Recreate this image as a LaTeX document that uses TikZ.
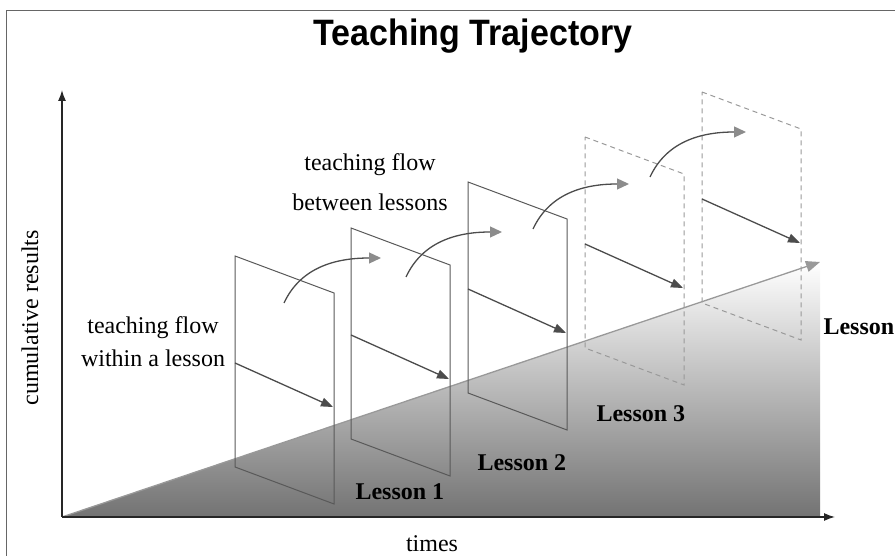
\documentclass[tikz,border=0pt]{standalone}
\usepackage{fontspec}
\setmainfont{Liberation Serif}
\newfontfamily\titlefont{Liberation Sans}
\usepackage{tikz}
\usetikzlibrary{arrows.meta}

\begin{document}
\begin{tikzpicture}[x=1pt, y=1pt, font=\fontsize{24}{33}\selectfont,
  axis/.style={draw=black!85, line width=1.3pt, -{Latex[length=11pt,width=8pt]}},
  lesson/.style={draw=black!65, line width=1pt},
  future/.style={draw=black!40, line width=1pt, dash pattern=on 5pt off 4pt},
  within/.style={draw=black!70, line width=1.3pt, -{Triangle[length=12pt,width=9pt]}},
  between/.style={draw=black!70, line width=1.3pt,
    -{Triangle[length=12pt,width=11pt,color=black!45,fill=black!45]}},
  lbl/.style={font=\fontsize{24}{24}\selectfont\bfseries, anchor=west}]
  \useasboundingbox (0,0) rectangle (895,556);
  % Frame
  \draw[black!60, line width=1pt] (6,0) -- (6,545) -- (895,545);

  % Shaded area under the trajectory
  \shade[top color=white, middle color=black!20, bottom color=black!55]
    (62,39) -- (820,294) -- (820,39) -- cycle;
  \coordinate (O) at (62,39);
  \coordinate (T) at (820,294);
  \draw[black!40, line width=1.3pt, -{Triangle[length=14pt,width=11pt]}] (O) -- (T);

  % Axes
  \coordinate (X) at (835,39);
  \coordinate (Y) at (62,466);
  \draw[axis] (O) -- (X);
  \draw[axis] (O) -- (Y);
  \node[anchor=base] (xlab) at (432,4) {times};
  \node[rotate=90] (ylab) at (30,238) {cumulative results};

  \def\drawLesson#1#2#3#4{
    \draw[#3] (#1,#2) -- ++(99,-37) -- ++(0,-211) -- ++(-99,37) -- cycle;
    \coordinate (in#4) at (#1,#2-107);
    \coordinate (out#4) at (#1+98,#2-151);
    \draw[within] (in#4) -- (out#4);
  }

  % Lessons (top left corner of each panel)
  \drawLesson{235}{300}{lesson}{1}
  \drawLesson{351}{328}{lesson}{2}
  \drawLesson{468}{374}{lesson}{3}
  \drawLesson{585}{419}{future}{4}
  \drawLesson{702}{464}{future}{5}

  % Flow between lessons
  \coordinate (a1) at (284,253); \coordinate (b1) at (381,298);
  \coordinate (a2) at (406,279); \coordinate (b2) at (502,324);
  \coordinate (a3) at (533,327); \coordinate (b3) at (629,372);
  \coordinate (a4) at (650,379); \coordinate (b4) at (746,424);
  \foreach \i in {1,...,4} {
    \draw[between] (a\i) to[out=65,in=180] (b\i);
  }

  % Labels
  \node[lbl] (L1) at (352,64) {Lesson 1};
  \node[lbl] (L2) at (474,93) {Lesson 2};
  \node[lbl] (L3) at (593,142) {Lesson 3};
  \node[lbl] (L4) at (820,229) {Lesson};
  \node[align=center] (within) at (153,214) {teaching flow\\within a lesson};
  \node[align=center] (betw) at (370,374) {teaching flow\\[7pt]between lessons};
  \node[anchor=base, yscale=1.08] (title) at (473,510)
    {\titlefont\bfseries\fontsize{34}{34}\selectfont Teaching Trajectory};
\end{tikzpicture}
\end{document}
